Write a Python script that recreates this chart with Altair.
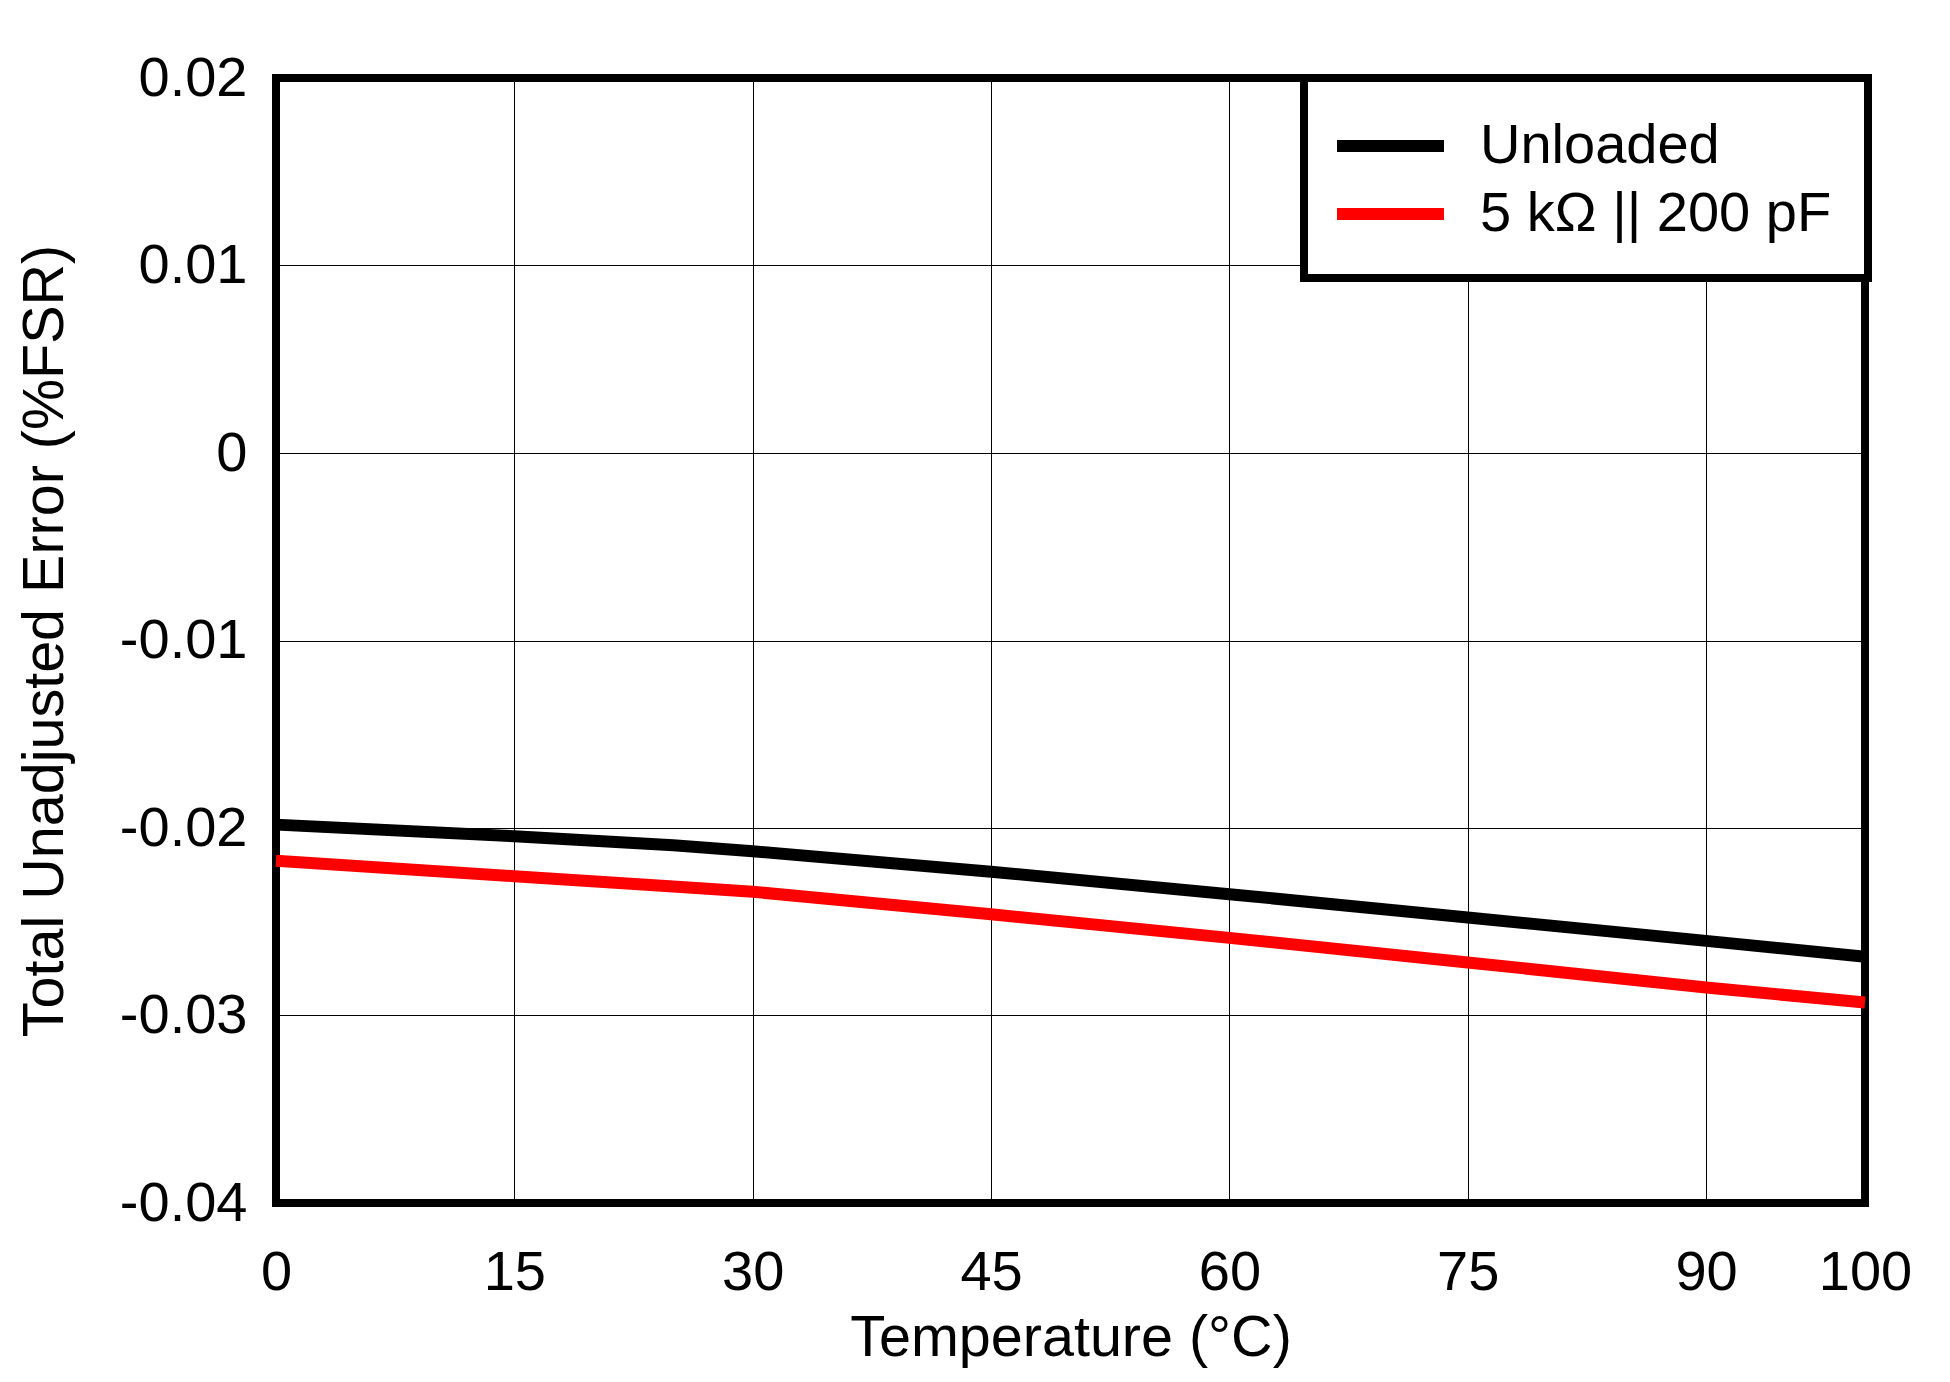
import altair as alt
import pandas as pd

SERIES = ["Unloaded", "5 kΩ || 200 pF"]
COLORS = ["#000000", "#FF0000"]

TEMP = [0, 15, 25, 30, 45, 60, 75, 90, 100]
ERR_UNLOADED = [-0.01982, -0.02044, -0.02092, -0.02124, -0.02233, -0.02353, -0.02477, -0.02602, -0.02687]
ERR_LOADED = [-0.02175, -0.02257, -0.02312, -0.02340, -0.02460, -0.02586, -0.02717, -0.02851, -0.02931]

X_TICKS = [0, 15, 30, 45, 60, 75, 90, 100]
Y_TICKS = [-0.04, -0.03, -0.02, -0.01, 0, 0.01, 0.02]

rows = []
for t, v in zip(TEMP, ERR_UNLOADED):
    rows.append({"temp": t, "err": v, "series": SERIES[0]})
for t, v in zip(TEMP, ERR_LOADED):
    rows.append({"temp": t, "err": v, "series": SERIES[1]})
df = pd.DataFrame(rows)

FONT = "Liberation Sans"

chart = alt.Chart(df).mark_line(strokeWidth=12, strokeCap="butt").encode(
    x=alt.X("temp:Q",
            scale=alt.Scale(domain=[0, 100], nice=False, zero=False),
            axis=alt.Axis(values=X_TICKS, title="Temperature (°C)",
                          labelPadding=42, titlePadding=10, labelFlush=False,
                          labelOverlap=False)),
    y=alt.Y("err:Q",
            scale=alt.Scale(domain=[-0.04, 0.02], nice=False, zero=False),
            axis=alt.Axis(values=Y_TICKS, title="Total Unadjusted Error (%FSR)",
                          labelPadding=29, titlePadding=45, labelFlush=False,
                          labelOverlap=False,
                          labelExpr="replace(format(datum.value, '.2~f'), '−', '-')")),
    color=alt.Color("series:N",
                    scale=alt.Scale(domain=SERIES, range=COLORS),
                    legend=alt.Legend(title=None, orient="none", legendX=1028, legendY=0)),
    detail="series:N",
).properties(
    width=1589,
    height=1125,
    autosize=alt.AutoSizeParams(type="none"),
    padding={"left": 268, "top": 70, "right": 60, "bottom": 180},
).configure_view(
    stroke="black", strokeWidth=8, fill="white"
).configure_axis(
    grid=True, gridColor="black", gridWidth=1, gridOpacity=1,
    domain=False, ticks=False,
    labelFont=FONT, labelFontSize=56, labelColor="black",
    titleFont=FONT, titleFontSize=57.5, titleColor="black", titleFontWeight="normal",
).configure_legend(
    strokeColor="black", strokeWidth=8, fillColor="white", padding=36,
    symbolType="M-1.346,0H2.769", symbolSize=2704, symbolStrokeWidth=12,
    labelFont=FONT, labelFontSize=56, labelColor="black",
    rowPadding=8, labelOffset=76, labelLimit=1000,
)

chart.save("out.html", embed_options={"renderer": "svg", "actions": False})
